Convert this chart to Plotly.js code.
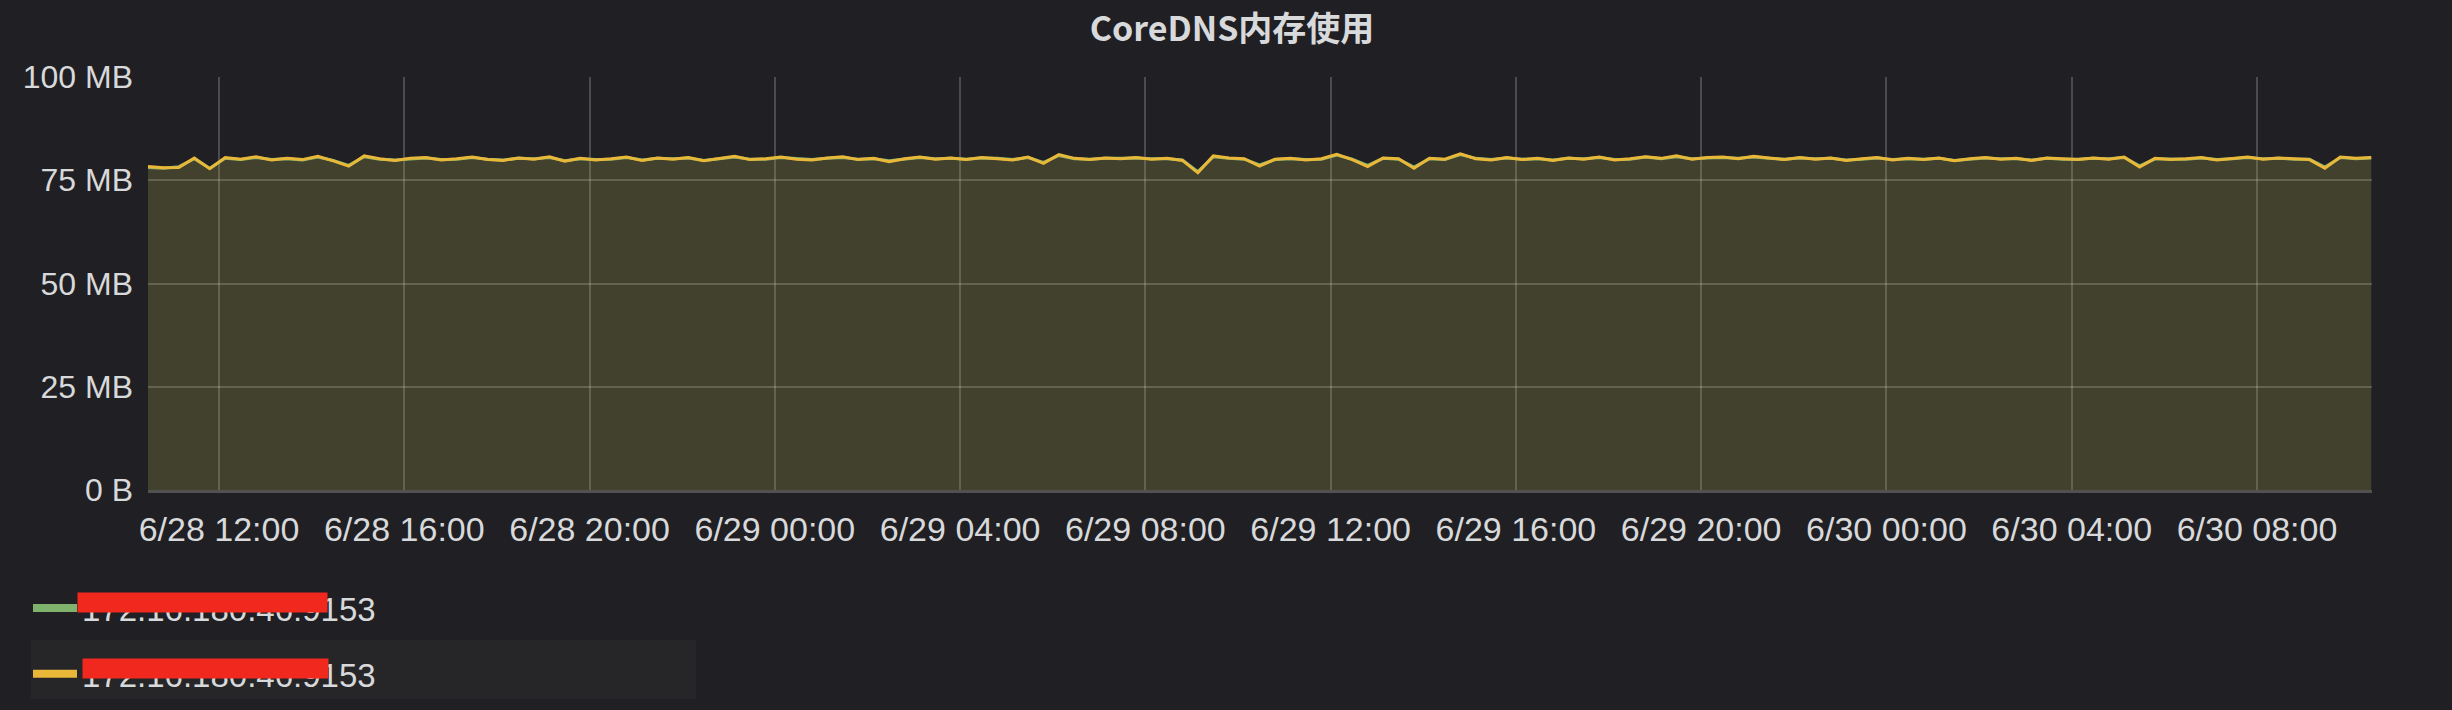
<!DOCTYPE html>
<html>
<head>
<meta charset="utf-8">
<script src="https://cdn.plot.ly/plotly-3.0.1.min.js"></script>
<style>
html,body{margin:0;padding:0;background:#202024;}
#chart{width:2452px;height:710px;}
</style>
</head>
<body>
<div id="chart"></div>
<script>
// ---- data ----
const chartTitle = "CoreDNS内存使用";
const seriesNames = ["172.16.180.46:9153", "172.16.180.46:9153"];
const seriesColors = ["#7EB26D", "#EAB839"];
const seriesFills = ["rgba(126,178,109,0.12)", "rgba(234,184,57,0.12)"];
const startTime = [2019, 5, 28, 10, 28]; // 2019-06-28 10:28
const stepMinutes = 20;
const rangeStart = "2019-06-28 10:28:00";
const rangeEnd = "2019-06-30 10:29:00";
const xTick0 = "2019-06-28 12:00:00";
const xTickHours = 4;

// memory in MB, one sample every 20 minutes
const memGreenMB = [
  78.1, 77.9, 78.3, 80.2, 77.9, 80.3,
  80.0, 80.5, 80.0, 80.2, 79.9, 80.6,
  79.8, 78.6, 80.7, 80.1, 79.9, 80.2,
  80.4, 80.0, 80.1, 80.5, 80.1, 79.9,
  80.3, 80.2, 80.5, 79.7, 80.2, 80.0,
  80.1, 80.5, 79.9, 80.3, 80.2, 80.4,
  79.8, 80.2, 80.6, 80.1, 80.1, 80.5,
  80.2, 80.0, 80.3, 80.5, 80.1, 80.2,
  79.7, 80.1, 80.5, 80.2, 80.3, 80.1,
  80.4, 80.3, 80.0, 80.5, 79.3, 81.0,
  80.2, 80.1, 80.3, 80.3, 80.4, 80.2,
  80.2, 79.9, 77.1, 80.7, 80.3, 80.1,
  78.7, 80.0, 80.2, 80.0, 80.1, 81.1,
  80.1, 78.6, 80.3, 80.1, 78.2, 80.2,
  80.0, 81.2, 80.3, 80.0, 80.4, 80.1,
  80.2, 79.9, 80.3, 80.2, 80.5, 80.0,
  80.1, 80.6, 80.2, 80.7, 80.2, 80.4,
  80.5, 80.3, 80.6, 80.3, 80.1, 80.4,
  80.2, 80.3, 79.9, 80.1, 80.4, 80.0,
  80.2, 80.1, 80.3, 79.8, 80.1, 80.4,
  80.2, 80.2, 79.9, 80.3, 80.1, 80.1,
  80.3, 80.2, 80.5, 78.5, 80.2, 80.1,
  80.1, 80.4, 80.0, 80.2, 80.5, 80.2,
  80.3, 80.1, 80.1, 78.2, 80.5, 80.2,
  80.4
];
const memYellowMB = [
  78.3, 78.0, 78.1, 80.4, 77.8, 80.5,
  80.1, 80.7, 79.9, 80.3, 80.0, 80.8,
  79.7, 78.4, 80.9, 80.2, 79.8, 80.3,
  80.5, 79.9, 80.2, 80.6, 80.0, 79.8,
  80.4, 80.1, 80.7, 79.6, 80.3, 79.9,
  80.2, 80.6, 79.8, 80.4, 80.1, 80.5,
  79.7, 80.3, 80.8, 80.0, 80.2, 80.6,
  80.1, 79.9, 80.4, 80.7, 80.0, 80.3,
  79.5, 80.2, 80.6, 80.1, 80.4, 80.0,
  80.5, 80.2, 79.9, 80.6, 79.1, 81.2,
  80.3, 80.0, 80.4, 80.2, 80.5, 80.1,
  80.3, 79.8, 76.8, 80.9, 80.4, 80.2,
  78.4, 80.1, 80.3, 79.9, 80.2, 81.3,
  80.0, 78.3, 80.4, 80.2, 77.9, 80.3,
  80.1, 81.4, 80.2, 79.9, 80.5, 80.0,
  80.3, 79.8, 80.4, 80.1, 80.6, 79.9,
  80.2, 80.7, 80.3, 80.9, 80.1, 80.5,
  80.6, 80.2, 80.8, 80.4, 80.0, 80.5,
  80.1, 80.4, 79.8, 80.2, 80.5, 79.9,
  80.3, 80.0, 80.4, 79.7, 80.2, 80.5,
  80.1, 80.3, 79.8, 80.4, 80.2, 80.0,
  80.4, 80.1, 80.6, 78.2, 80.3, 80.0,
  80.2, 80.5, 79.9, 80.3, 80.6, 80.1,
  80.4, 80.2, 80.0, 77.9, 80.6, 80.3,
  80.5
];
const yTickVals = [0, 25, 50, 75, 100];
const yTickText = ["0 B", "25 MB", "50 MB", "75 MB", "100 MB"];

// ---- build ----
const base = Date.UTC(startTime[0], startTime[1], startTime[2], startTime[3], startTime[4]);
const times = memYellowMB.map((_, i) =>
  new Date(base + i * stepMinutes * 60000).toISOString().slice(0, 19).replace('T', ' '));

const W = 2452, H = 710;
const M = {l: 148, r: 80, t: 77, b: 220, autoexpand: false};
const PW = W - M.l - M.r, PH = H - M.t - M.b;
const px = x => (x - M.l) / PW;
const py = y => (H - M.b - y) / PH;

const FONT = "Liberation Sans, Arial, Helvetica, sans-serif";
const TXT = "#d8d9da";

const allSeries = [memGreenMB, memYellowMB];
const traces = [];
allSeries.forEach((vals, k) => {
  traces.push({
    type: 'scatter', mode: 'lines', x: times, y: vals,
    line: {color: seriesColors[k], width: 3},
    fill: 'tozeroy', fillcolor: seriesFills[k],
    name: seriesNames[k], showlegend: false, hoverinfo: 'skip'
  });
});
// legend entries
allSeries.forEach((vals, k) => {
  traces.push({
    type: 'scatter', mode: 'lines', x: [null], y: [null],
    line: {color: seriesColors[k], width: 8},
    name: seriesNames[k], legendgroup: 'g' + k, showlegend: true
  });
});

const shapes = [
  // highlighted second legend row
  {type: 'rect', xref: 'paper', yref: 'paper', layer: 'below',
   x0: px(31), x1: px(696), y0: py(699), y1: py(640),
   fillcolor: '#262629', line: {width: 0}}
];

// redaction marks over the legend labels
const marks = [
  {x0: 78, x1: 327, yc: 602, h: 19},
  {x0: 83, x1: 328, yc: 668, h: 19}
];
const annotations = marks.map(m => ({
  xref: 'paper', yref: 'paper', x: px((m.x0 + m.x1) / 2), y: py(m.yc),
  xanchor: 'center', yanchor: 'middle', showarrow: false,
  text: '\u00a0', width: m.x1 - m.x0, height: m.h, borderpad: 0,
  bgcolor: '#f0281e', font: {size: 10, color: '#f0281e'}
}));

const layout = {
  width: W, height: H,
  paper_bgcolor: '#202024', plot_bgcolor: 'rgba(0,0,0,0)',
  margin: M,
  title: {
    text: chartTitle, xref: 'container', yref: 'container',
    x: 1232 / W, xanchor: 'center', y: 1 - 29 / H, yanchor: 'middle',
    font: {family: "Noto Sans CJK SC, sans-serif", size: 34, color: TXT, weight: 'bold'}
  },
  xaxis: {
    type: 'date', range: [rangeStart, rangeEnd],
    tick0: xTick0, dtick: xTickHours * 3600000, tickformat: '%-m/%d %H:%M',
    showgrid: true, gridcolor: 'rgba(255,255,255,0.2)', gridwidth: 2,
    showline: true, linecolor: 'rgba(255,255,255,0.22)', linewidth: 3,
    zeroline: false, ticks: '', ticklabelstandoff: 7, automargin: false,
    tickfont: {family: FONT, size: 34, color: TXT}
  },
  yaxis: {
    range: [0, 100], tickvals: yTickVals, ticktext: yTickText,
    showgrid: true, gridcolor: 'rgba(255,255,255,0.2)', gridwidth: 2,
    zeroline: false, showline: false, ticks: '', ticklabelstandoff: 14, automargin: false,
    tickfont: {family: FONT, size: 32, color: TXT}
  },
  showlegend: true,
  legend: {
    xref: 'paper', yref: 'paper', x: px(28), y: py(580),
    xanchor: 'left', yanchor: 'top', bgcolor: 'rgba(0,0,0,0)',
    font: {family: FONT, size: 33, color: TXT},
    tracegroupgap: 20, itemwidth: 44
  },
  shapes: shapes,
  annotations: annotations
};

Plotly.newPlot('chart', traces, layout, {staticPlot: true, displayModeBar: false});
</script>
</body>
</html>
